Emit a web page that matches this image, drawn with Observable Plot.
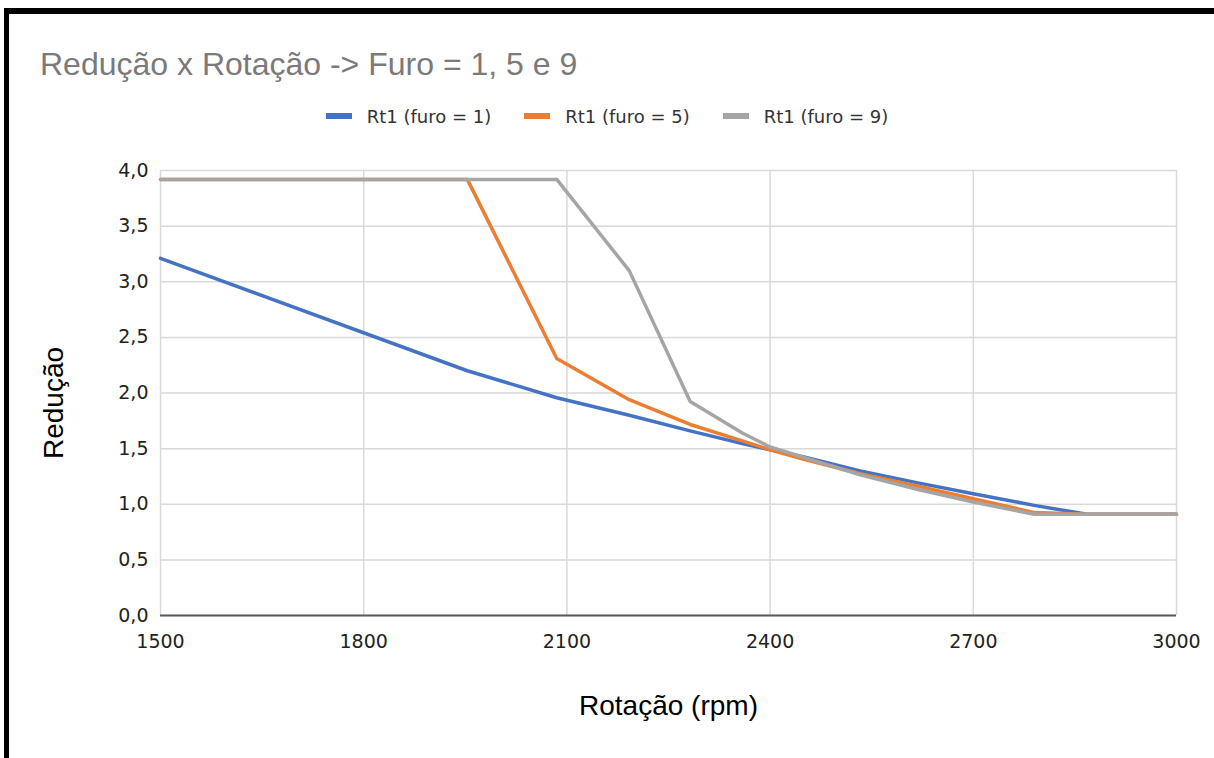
<!DOCTYPE html>
<html>
<head>
<meta charset="utf-8">
<script src="https://cdn.jsdelivr.net/npm/d3@7"></script>
<script src="https://cdn.jsdelivr.net/npm/@observablehq/plot@0.6"></script>
<style>
  html, body { margin: 0; padding: 0; background: #fff; }
  #wrap { position: relative; width: 1214px; height: 758px; overflow: hidden; background: #fff; }
  .band { position: absolute; background: #000; }
  #title { position: absolute; left: 40px; top: 48px; font: 32px "Liberation Sans", Arial, sans-serif; line-height: 32px; color: #7a7a7a; white-space: nowrap; }
  #legend { position: absolute; left: 0; width: 1214px; top: 104px; height: 24px; display: flex; justify-content: center; align-items: center; gap: 33px; font: 18px "DejaVu Sans", sans-serif; color: #333; }
  .item { display: flex; align-items: center; gap: 15px; }
  .sw { width: 26px; height: 6px; }
  #chart { position: absolute; left: 0; top: 150px; }
</style>
</head>
<body>
<div id="wrap">
  <div class="band" style="left:4px;top:8px;width:1210px;height:6px"></div>
  <div class="band" style="left:4px;top:8px;width:5px;height:750px"></div>
  <div id="title"></div>
  <div id="legend"></div>
  <div id="chart"></div>
</div>
<script>
// ---- data ----
const rpm   = [1500, 1953, 2085, 2192, 2282, 2359, 2400, 2450, 2533, 2620, 2700, 2790, 2868, 3000];
const furo1 = [3.21, 2.20, 1.957, 1.80, 1.66, 1.545, 1.489, 1.425, 1.30, 1.19, 1.094, 0.99, 0.91, 0.91];
const furo5 = [3.92, 3.92, 2.31, 1.94, 1.717, 1.57, 1.49, 1.405, 1.274, 1.16, 1.049, 0.925, 0.91, 0.91];
const furo9 = [3.92, 3.92, 3.92, 3.10, 1.924, 1.64, 1.515, 1.42, 1.265, 1.13, 1.02, 0.91, 0.91, 0.91];
const seriesNames  = ["Rt1 (furo = 1)", "Rt1 (furo = 5)", "Rt1 (furo = 9)"];
const seriesColors = ["#4472C4", "#ED7D31", "#A5A5A5"];
const xTicks = [1500, 1800, 2100, 2400, 2700, 3000];
const yTicks = [0, 0.5, 1, 1.5, 2, 2.5, 3, 3.5, 4];
const titleText = "Redução x Rotação -> Furo = 1, 5 e 9";
const xLabel = "Rotação (rpm)";
const yLabel = "Redução";

const seriesValues = [furo1, furo5, furo9];
const data = seriesNames.flatMap((s, i) => rpm.map((r, j) => ({rpm: r, value: seriesValues[i][j], serie: s})));

document.getElementById("title").textContent = titleText;
const legend = document.getElementById("legend");
seriesNames.forEach((s, i) => {
  const it = document.createElement("div"); it.className = "item";
  const sw = document.createElement("div"); sw.className = "sw"; sw.style.background = seriesColors[i];
  const tx = document.createElement("span"); tx.textContent = s;
  it.appendChild(sw); it.appendChild(tx); legend.appendChild(it);
});

const fmtY = d => d3.format(".1f")(d).replace(".", ",");
const fmtX = d => d3.format("d")(d);

const chart = Plot.plot({
  width: 1214,
  height: 608,
  marginLeft: 160,
  marginRight: 38,
  marginTop: 20,
  marginBottom: 143,
  style: {fontFamily: "DejaVu Sans, sans-serif", fontSize: "19px", color: "#222", background: "transparent", overflow: "visible"},
  x: {domain: [1500, 3000]},
  y: {domain: [0, 4]},
  color: {domain: seriesNames, range: seriesColors},
  marks: [
    Plot.gridX(xTicks, {stroke: "#d9d9d9", strokeOpacity: 1, strokeWidth: 1.5}),
    Plot.gridY(yTicks, {stroke: "#d9d9d9", strokeOpacity: 1, strokeWidth: 1.5}),
    Plot.ruleY([0], {stroke: "#595959", strokeWidth: 1.8}),
    Plot.line(data, {x: "rpm", y: "value", z: "serie", stroke: "serie", strokeWidth: 3.5, strokeLinejoin: "round"}),
    Plot.axisX(xTicks, {tickSize: 0, tickPadding: 19, tickFormat: fmtX, label: null, fill: "#222", fontSize: 19}),
    Plot.axisY(yTicks, {tickSize: 0, tickPadding: 12, tickFormat: fmtY, label: null, fill: "#222", fontSize: 19}),
    Plot.text([xLabel], {frameAnchor: "bottom", dy: 91, lineAnchor: "middle", textAnchor: "middle", fontSize: 28, fontFamily: "Liberation Sans, Arial, sans-serif", fill: "#000"}),
    Plot.text([yLabel], {frameAnchor: "left", dx: -106, dy: 10, rotate: -90, lineAnchor: "middle", textAnchor: "middle", fontSize: 28, fontFamily: "Liberation Sans, Arial, sans-serif", fill: "#000"})
  ]
});
document.getElementById("chart").appendChild(chart);
</script>
</body>
</html>
